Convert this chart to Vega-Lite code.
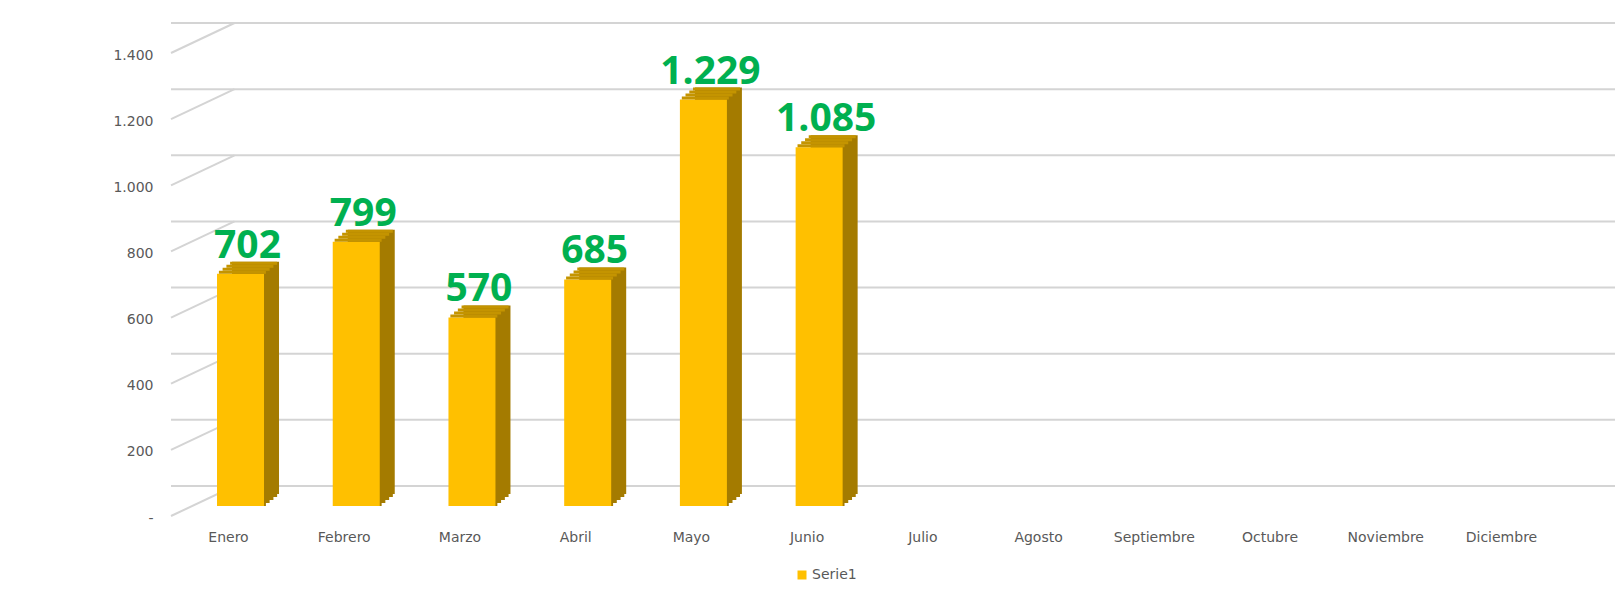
{
  "$schema": "https://vega.github.io/schema/vega-lite/v6.json",
  "width": 1412,
  "height": 463,
  "autosize": {"type": "none"},
  "padding": {"left": 171, "top": 43, "right": 32, "bottom": 90},
  "background": "white",
  "config": {
    "view": {"stroke": null},
    "font": "DejaVu Sans",
    "locale": {"number": {"decimal": ",", "thousands": ".", "grouping": [3], "currency": ["", " €"]}},
    "axisX": {"title": null, "domain": false, "ticks": false, "grid": false, "labelAngle": 0, "labelPadding": 24, "labelOffset": -12, "labelFontSize": 14, "labelColor": "#595959", "labelFont": "DejaVu Sans"}
  },
  "datasets": {
    "ventas": [
      {"mes": "Enero", "valor": 702, "serie": "Serie1"},
      {"mes": "Febrero", "valor": 799, "serie": "Serie1"},
      {"mes": "Marzo", "valor": 570, "serie": "Serie1"},
      {"mes": "Abril", "valor": 685, "serie": "Serie1"},
      {"mes": "Mayo", "valor": 1229, "serie": "Serie1"},
      {"mes": "Junio", "valor": 1085, "serie": "Serie1"}
    ],
    "ticks": [
      {"valor": 0}, {"valor": 200}, {"valor": 400}, {"valor": 600},
      {"valor": 800}, {"valor": 1000}, {"valor": 1200}, {"valor": 1400}
    ]
  },
  "encoding": {
    "x": {"field": "mes", "type": "nominal",
          "scale": {"type": "band", "domain": ["Enero","Febrero","Marzo","Abril","Mayo","Junio","Julio","Agosto","Septiembre","Octubre","Noviembre","Diciembre"], "paddingInner": 0.5938, "paddingOuter": 0.3976}, "axis": {"title": null}},
    "y": {"field": "valor", "type": "quantitative", "scale": {"domain": [0, 1400], "nice": false},
          "axis": {"title": null, "values": [0, 200, 400, 600, 800, 1000, 1200, 1400], "format": ",d", "labelExpr": "datum.value == 0 ? '-' : datum.label", "labelOverlap": false, "domain": false, "ticks": false, "grid": false, "labelPadding": 18, "labelOffset": 12, "labelFontSize": 14, "labelColor": "#595959", "labelFont": "DejaVu Sans"}}
  },
  "layer": [
    {
      "data": {"name": "ticks"},
      "mark": {"type": "rule", "color": "#D4D4D4", "strokeWidth": 2, "xOffset": 40, "x2Offset": 15, "yOffset": -20},
      "encoding": {"x": null}
    },
    {
      "data": {"name": "ticks"},
      "mark": {"type": "rule", "color": "#D4D4D4", "strokeWidth": 2, "xOffset": -46, "x2Offset": -6, "yOffset": 10, "y2Offset": -20},
      "encoding": {
        "x": {"datum": "Enero", "type": "nominal", "bandPosition": 0},
        "x2": {"datum": "Enero"},
        "y2": {"field": "valor"}
      }
    },
    {
      "data": {"name": "ventas"},
      "mark": {"type": "bar", "color": "#A47B00", "xOffset": 15, "yOffset": -12, "y2Offset": -12},
      "encoding": {}
    },
    {
      "data": {"name": "ventas"},
      "mark": {"type": "bar", "color": "#A47B00", "xOffset": 13.1, "yOffset": -12, "y2Offset": -9},
      "encoding": {"y": {"datum": 0, "type": "quantitative"}, "y2": {"datum": 0}}
    },
    {
      "data": {"name": "ventas"},
      "mark": {"type": "bar", "color": "#A47B00", "xOffset": 9.4, "yOffset": -9, "y2Offset": -6},
      "encoding": {"y": {"datum": 0, "type": "quantitative"}, "y2": {"datum": 0}}
    },
    {
      "data": {"name": "ventas"},
      "mark": {"type": "bar", "color": "#A47B00", "xOffset": 5.6, "yOffset": -6, "y2Offset": -3},
      "encoding": {"y": {"datum": 0, "type": "quantitative"}, "y2": {"datum": 0}}
    },
    {
      "data": {"name": "ventas"},
      "mark": {"type": "bar", "color": "#A47B00", "xOffset": 1.9, "yOffset": -3, "y2Offset": 0},
      "encoding": {"y": {"datum": 0, "type": "quantitative"}, "y2": {"datum": 0}}
    },
    {
      "data": {"name": "ventas"},
      "mark": {"type": "bar"},
      "encoding": {
        "color": {"field": "serie", "type": "nominal", "scale": {"domain": ["Serie1"], "range": ["#FFC000"]},
                  "legend": {"title": null, "orient": "none", "legendX": 624, "legendY": 525, "symbolType": "square", "symbolSize": 81, "symbolStrokeWidth": 0, "labelFontSize": 14, "labelColor": "#595959", "labelFont": "DejaVu Sans", "labelOffset": 3, "padding": 0}}
      }
    },
    {
      "data": {"name": "ventas"},
      "mark": {"type": "bar", "color": "#C49400", "xOffset": 1.9, "yOffset": -3, "y2Offset": 0},
      "encoding": {"y2": {"field": "valor"}}
    },
    {
      "data": {"name": "ventas"},
      "mark": {"type": "bar", "color": "#C49400", "xOffset": 5.6, "yOffset": -6, "y2Offset": -3},
      "encoding": {"y2": {"field": "valor"}}
    },
    {
      "data": {"name": "ventas"},
      "mark": {"type": "bar", "color": "#C49400", "xOffset": 9.4, "yOffset": -9, "y2Offset": -6},
      "encoding": {"y2": {"field": "valor"}}
    },
    {
      "data": {"name": "ventas"},
      "mark": {"type": "bar", "color": "#C49400", "xOffset": 13.1, "yOffset": -12, "y2Offset": -9},
      "encoding": {"y2": {"field": "valor"}}
    },
    {
      "data": {"name": "ventas"},
      "mark": {"type": "text", "font": "Open Sans", "fontWeight": "bold", "fontSize": 39, "color": "#00B050", "dx": 7, "dy": -16, "baseline": "alphabetic", "align": "center"},
      "encoding": {
        "text": {"field": "valor", "type": "quantitative", "format": ",d"}
      }
    }
  ]
}
